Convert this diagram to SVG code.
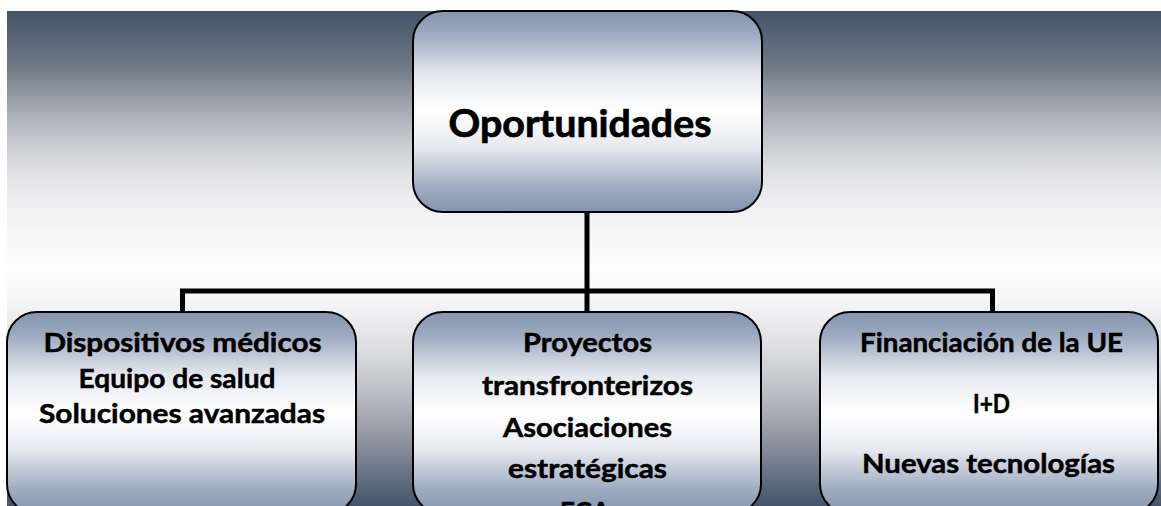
<svg xmlns="http://www.w3.org/2000/svg" width="1161" height="506" viewBox="0 0 1161 506">
  <defs>
    <linearGradient id="bg" x1="0" y1="11" x2="0" y2="506" gradientUnits="userSpaceOnUse">
      <stop offset="0" stop-color="#44546a"/>
      <stop offset="0.044" stop-color="#556274"/>
      <stop offset="0.113" stop-color="#6f7a86"/>
      <stop offset="0.18" stop-color="#9ba0a9"/>
      <stop offset="0.246" stop-color="#bfc1c6"/>
      <stop offset="0.315" stop-color="#dcdde0"/>
      <stop offset="0.38" stop-color="#eeeef0"/>
      <stop offset="0.45" stop-color="#f7f7f8"/>
      <stop offset="0.52" stop-color="#fdfdfd"/>
      <stop offset="0.584" stop-color="#f6f6f7"/>
      <stop offset="0.685" stop-color="#dcdde0"/>
      <stop offset="0.786" stop-color="#b5b8be"/>
      <stop offset="0.867" stop-color="#8e949e"/>
      <stop offset="0.937" stop-color="#677283"/>
      <stop offset="1" stop-color="#44546a"/>
    </linearGradient>
    <linearGradient id="box" x1="0" y1="0" x2="0" y2="1">
      <stop offset="0" stop-color="#8494ae"/>
      <stop offset="0.12" stop-color="#9eabc0"/>
      <stop offset="0.32" stop-color="#e6e9ef"/>
      <stop offset="0.5" stop-color="#ffffff"/>
      <stop offset="0.68" stop-color="#e6e9ef"/>
      <stop offset="0.88" stop-color="#9eabc0"/>
      <stop offset="1" stop-color="#8494ae"/>
    </linearGradient>
    <style>
      .node { fill: url(#box); stroke: #000; stroke-width: 2; }
      .lbl { font-family: Lato, "Liberation Sans", sans-serif; font-weight: bold; fill: #000; stroke: #000; stroke-width: 0.5; text-anchor: middle; }
      .big { font-size: 38px; stroke-width: 0.7; }
      .sm { font-size: 27px; }
      .conn { stroke: #000; stroke-width: 5; fill: none; }
    </style>
  </defs>

  <rect x="7" y="11" width="1154" height="495" fill="url(#bg)"/>

  <g id="connectors">
    <line class="conn" x1="587" y1="212" x2="587" y2="314"/>
    <line class="conn" x1="180" y1="291" x2="995" y2="291"/>
    <line class="conn" x1="182.5" y1="289" x2="182.5" y2="314"/>
    <line class="conn" x1="992.5" y1="289" x2="992.5" y2="314"/>
  </g>

  <g id="node-oportunidades">
    <rect class="node" x="413" y="11" width="349" height="201" rx="30" ry="30"/>
    <text class="lbl big" x="580" y="137" textLength="263" lengthAdjust="spacingAndGlyphs">Oportunidades</text>
  </g>

  <g id="node-dispositivos">
    <rect class="node" x="7" y="312" width="349" height="202" rx="30" ry="30"/>
    <text class="lbl sm" x="182.5" y="352" textLength="278" lengthAdjust="spacingAndGlyphs">Dispositivos médicos</text>
    <text class="lbl sm" x="177" y="388" textLength="197" lengthAdjust="spacingAndGlyphs">Equipo de salud</text>
    <text class="lbl sm" x="182" y="423" textLength="286" lengthAdjust="spacingAndGlyphs">Soluciones avanzadas</text>
  </g>

  <g id="node-proyectos">
    <rect class="node" x="413" y="312" width="348" height="202" rx="30" ry="30"/>
    <text class="lbl sm" x="587.5" y="352" textLength="129" lengthAdjust="spacingAndGlyphs">Proyectos</text>
    <text class="lbl sm" x="587.5" y="395" textLength="211" lengthAdjust="spacingAndGlyphs">transfronterizos</text>
    <text class="lbl sm" x="587.5" y="437" textLength="169" lengthAdjust="spacingAndGlyphs">Asociaciones</text>
    <text class="lbl sm" x="587.5" y="478" textLength="159" lengthAdjust="spacingAndGlyphs">estratégicas</text>
    <text class="lbl sm" x="585" y="521" textLength="50" lengthAdjust="spacingAndGlyphs">ECA</text>
  </g>

  <g id="node-financiacion">
    <rect class="node" x="820" y="312" width="338" height="202" rx="30" ry="30"/>
    <text class="lbl sm" x="991.5" y="352" textLength="263" lengthAdjust="spacingAndGlyphs">Financiación de la UE</text>
    <text class="lbl sm" x="991.5" y="413" textLength="37" lengthAdjust="spacingAndGlyphs">I+D</text>
    <text class="lbl sm" x="988.5" y="473" textLength="253" lengthAdjust="spacingAndGlyphs">Nuevas tecnologías</text>
  </g>
</svg>
